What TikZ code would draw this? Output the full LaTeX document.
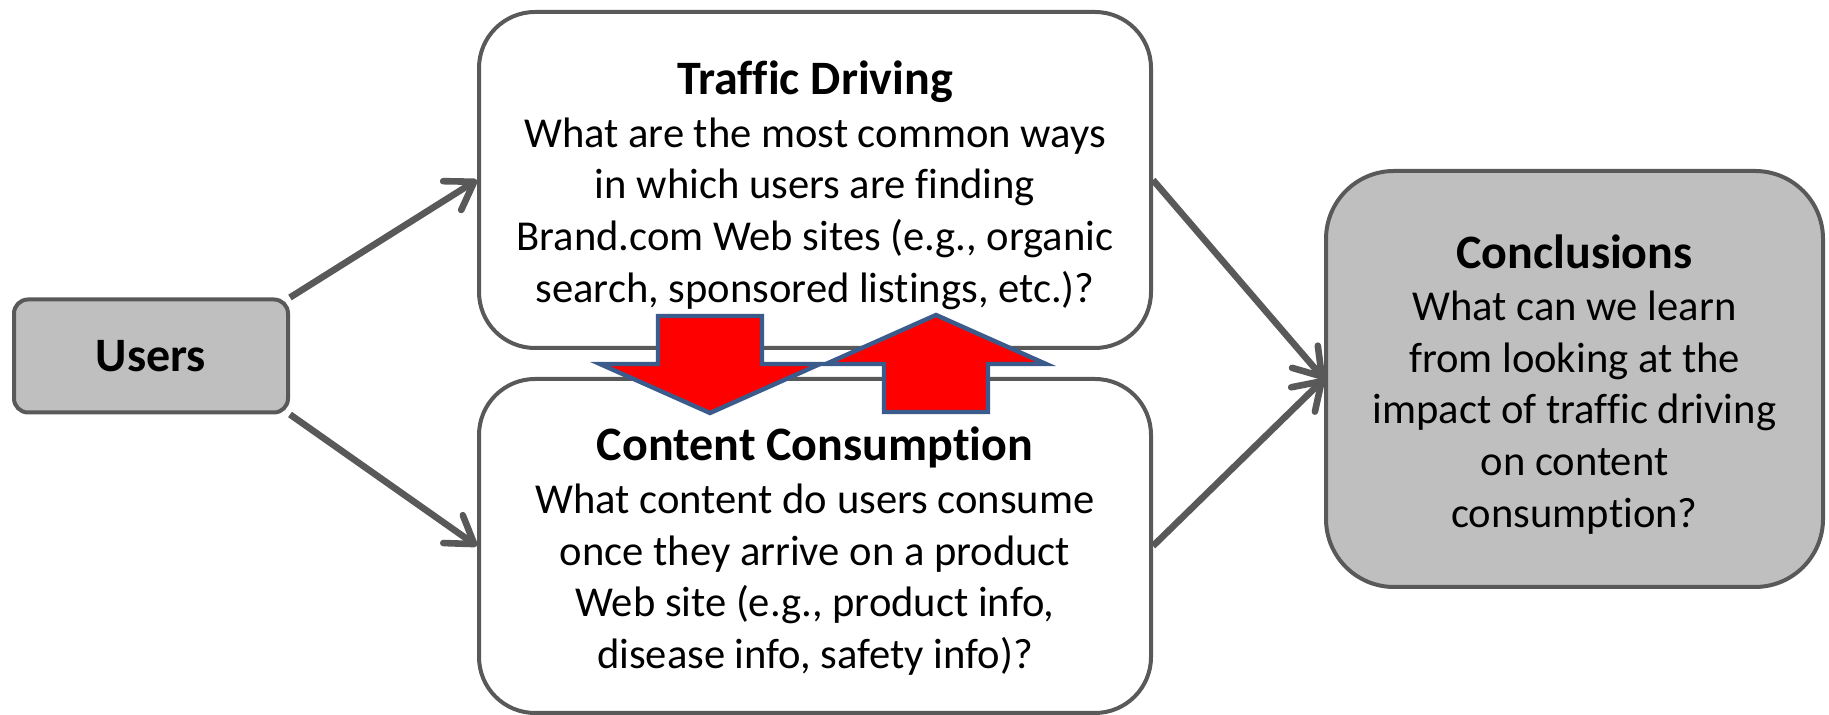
\documentclass[tikz,border=0pt]{standalone}
\usepackage{fontspec}
\setmainfont{Carlito}[Ligatures=NoCommon]
\usetikzlibrary{arrows.meta}
\definecolor{edgegray}{HTML}{595959}
\definecolor{fillgray}{HTML}{BFBFBF}
\definecolor{arrowred}{HTML}{FF0000}
\definecolor{arrowblue}{HTML}{3B5B8C}
% bold heading line of a card; the strut lowers the text block a little
\newcommand{\cardtitle}[1]{{\fontsize{24}{27}\selectfont\bfseries\rule{0pt}{22pt}#1}}
\begin{document}
\begin{tikzpicture}[x=0.5pt,y=0.5pt,
  card/.style={draw=edgegray, line width=2pt, align=center, inner sep=0pt,
    font=\fontsize{21.3}{25.8}\selectfont},
  link/.style={draw=edgegray, line width=3.3pt,
    -{Straight Barb[length=13pt,width=17pt,round]}},
  blockarrow/.style={fill=arrowred, draw=arrowblue, line width=2.2pt, line join=miter}]
\useasboundingbox (0,0) rectangle (1829,715);

% boxes
\node[card, fill=fillgray, rounded corners=7pt, minimum width=137pt, minimum height=56.5pt,
  font=\fontsize{24}{27}\selectfont\bfseries] (users) at (151,359) {Users};
\node[card, fill=white, rounded corners=28pt, minimum width=336pt, minimum height=168pt]
  (traffic) at (815,535)
  {\cardtitle{Traffic Driving}\\[0.5pt]
   What are the most common ways\\
   in which users are finding\\
   Brand.com Web sites (e.g., organic\\
   search, sponsored listings, etc.)?};
\node[card, fill=white, rounded corners=28pt, minimum width=336pt, minimum height=167pt]
  (content) at (815,169)
  {\cardtitle{Content Consumption}\\[0.5pt]
   What content do users consume\\
   once they arrive on a product\\
   Web site (e.g., product info,\\
   disease info, safety info)?};
\node[card, fill=fillgray, rounded corners=34pt, minimum width=248.5pt, minimum height=208pt]
  (concl) at (1574.5,336)
  {\cardtitle{Conclusions}\\[0.5pt]
   What can we learn\\
   from looking at the\\
   impact of traffic driving\\
   on content\\
   consumption?};

% connectors
\draw[link] (users.north east) -- (traffic.west);
\draw[link] (users.south east) -- (content.west);
\draw[link] (traffic.east) -- (concl.west);
\draw[link] (content.east) -- (concl.west);

% block arrows between the two middle boxes
\draw[blockarrow] (658,399) -- (762,399) -- (762,351) -- (820,351) -- (710,302)
  -- (600,351) -- (658,351) -- cycle;
\draw[blockarrow] (884,303) -- (988,303) -- (988,351) -- (1046,351) -- (936,400)
  -- (826,351) -- (884,351) -- cycle;
\end{tikzpicture}
\end{document}
